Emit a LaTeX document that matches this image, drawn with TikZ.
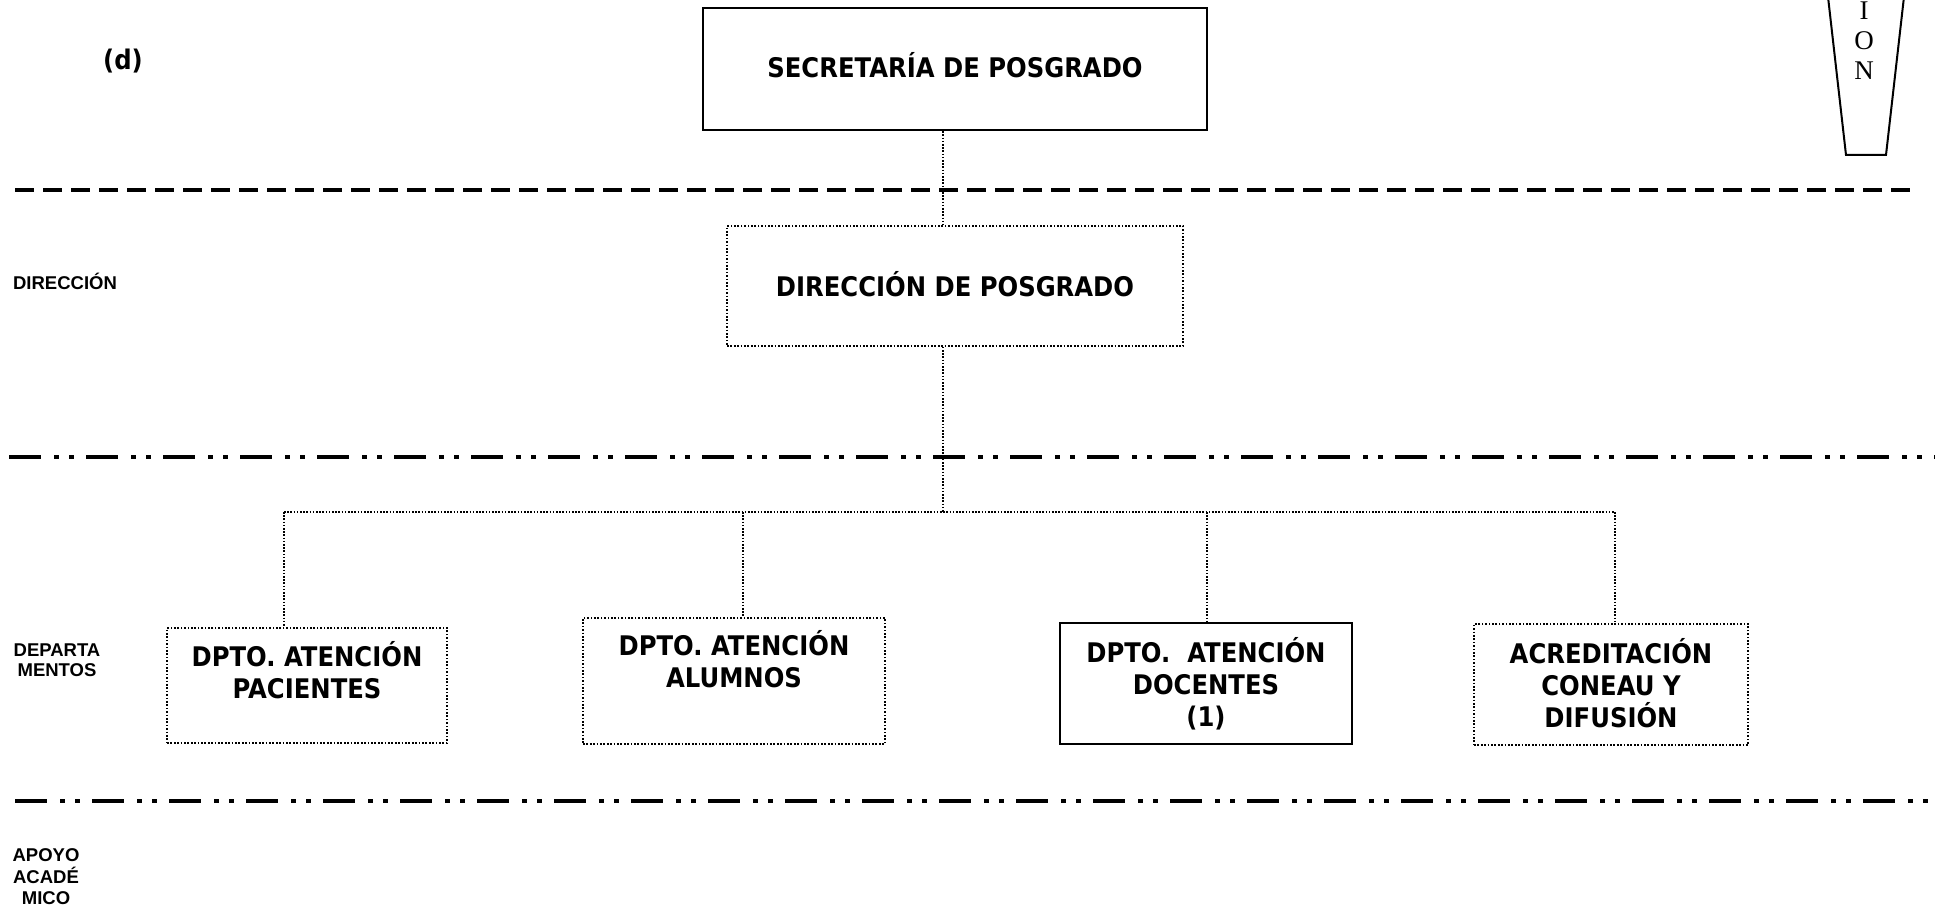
\documentclass[tikz,border=0pt]{standalone}
\usepackage{fontspec}
\newfontfamily\boxfont{DejaVu Sans}[FakeStretch=0.9]
\newfontfamily\lblfont{Liberation Sans}
\newfontfamily\serfont{Liberation Serif}
\begin{document}
\begin{tikzpicture}[x=0.5pt,y=-0.5pt,
  boxtxt/.style={font=\boxfont\bfseries\fontsize{13.5}{16}\selectfont, align=center},
  solidbox/.style={draw, line width=1.2pt, rectangle, inner sep=0pt, boxtxt},
  dotbox/.style={draw, line width=0.85pt, dash pattern=on 0.85pt off 0.85pt, rectangle, inner sep=0pt, boxtxt},
  conn/.style={line width=0.8pt, dash pattern=on 0.8pt off 0.8pt},
  sepdash/.style={line width=2pt, dash pattern=on 9.5pt off 4.5pt},
  sepdashdot/.style={line width=2pt, dash pattern=on 16pt off 6.5pt on 2.5pt off 5pt on 2.5pt off 6pt},
  lbl/.style={font=\lblfont\bfseries\fontsize{9.25}{10}\selectfont, align=center, inner sep=0pt},
  lbltall/.style={font=\lblfont\bfseries\fontsize{9.25}{10.75}\selectfont, align=center, inner sep=0pt},
  tag/.style={boxtxt, inner sep=0pt},
  vert/.style={font=\serfont\fontsize{13.5}{15}\selectfont, align=center, inner sep=0pt}]
\useasboundingbox (0,0) rectangle (1935,909);
\clip (0,0) rectangle (1935,909);

% separators
\draw[sepdash] (15,190) -- (1919,190);
\draw[sepdashdot] (9,457) -- (1935,457);
\draw[sepdashdot] (15,801) -- (1935,801);

% label (d)
\node[tag] (dlab) at (123,61) {(d)};

% level labels
\node[lbl] (ldir) at (65,281) {DIRECCIÓN};
\node[lbl] (ldep) at (57,660) {DEPARTA\\MENTOS};
\node[lbltall] (lapo) at (46,877) {APOYO\\ACADÉ\\MICO};

% top-right shape
\draw[line width=1pt] (1827,-12) -- (1846,155) -- (1886,155) -- (1905,-12);
\node[vert] (trap) at (1864,41) {I\\O\\N};

% boxes
\node[solidbox, text depth=4pt, minimum width=252pt, minimum height=61pt] (sec) at (955,69) {SECRETARÍA DE POSGRADO};
\node[dotbox, text depth=2.5pt, minimum width=228pt, minimum height=60pt] (dir) at (955,286) {DIRECCIÓN DE POSGRADO};
\node[dotbox, minimum width=140pt, minimum height=57.5pt] (pac) at (307,685.5) {DPTO. ATENCIÓN\\PACIENTES\\~};
\node[dotbox, text depth=6pt, minimum width=151pt, minimum height=63pt] (alu) at (734,681) {DPTO. ATENCIÓN\\ALUMNOS\\~};
\node[solidbox, line width=1.1pt, minimum width=146pt, minimum height=60.5pt] (doc) at (1206,683.5) {DPTO.\ \ ATENCIÓN\\DOCENTES\\(1)};
\node[dotbox, text depth=2pt, minimum width=137pt, minimum height=60.5pt] (acr) at (1611,684.5) {ACREDITACIÓN\\CONEAU Y\\DIFUSIÓN};

% connectors
\coordinate (hub) at (943,512);
\coordinate (bl) at (284,512);
\coordinate (ba) at (743,512);
\coordinate (bd) at (1207,512);
\coordinate (br) at (1615,512);
\draw[conn] (sec.south -| hub) -- (dir.north -| hub);
\draw[conn] (dir.south -| hub) -- (hub);
\draw[conn] (bl) -- (br);
\draw[conn] (bl) -- (pac.north -| bl);
\draw[conn] (ba) -- (alu.north -| ba);
\draw[conn] (bd) -- (doc.north -| bd);
\draw[conn] (br) -- (acr.north -| br);
\end{tikzpicture}
\end{document}
